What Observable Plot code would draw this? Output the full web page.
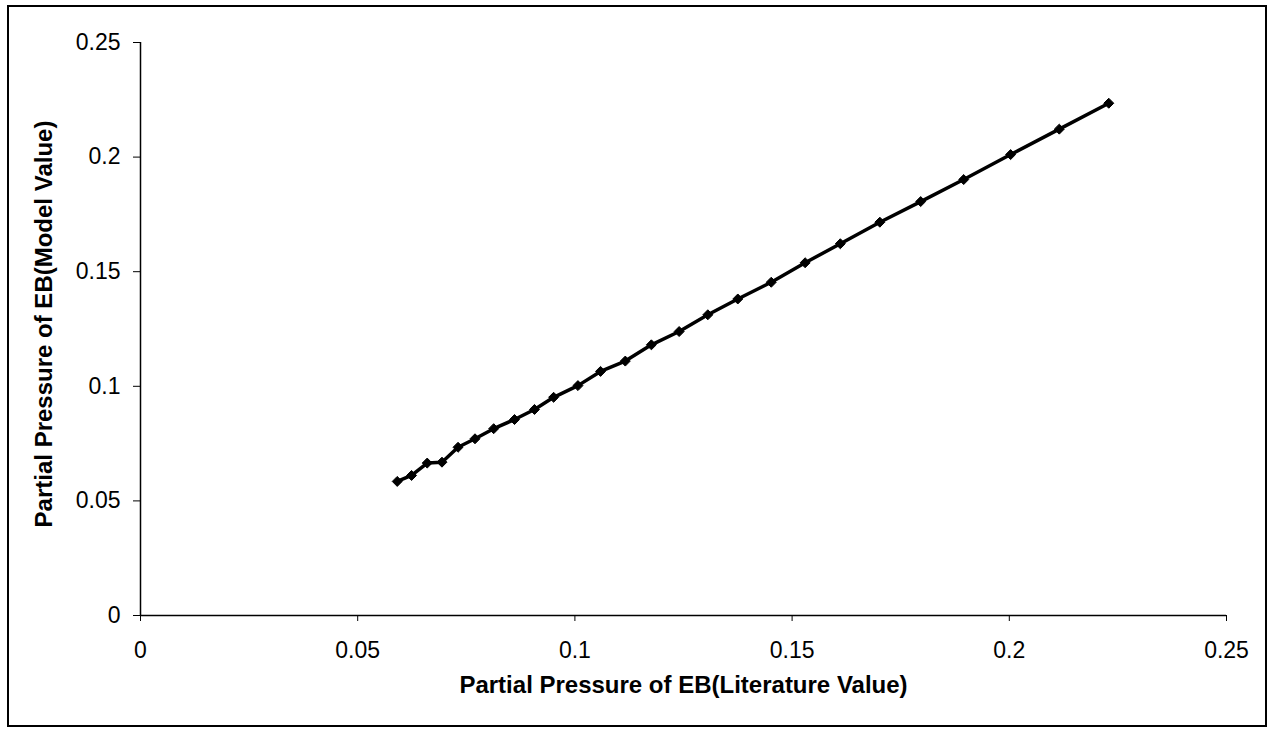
<!DOCTYPE html>
<html><head><meta charset="utf-8">
<script src="https://cdn.jsdelivr.net/npm/d3@7"></script>
<script src="https://cdn.jsdelivr.net/npm/@observablehq/plot@0.6"></script>
<style>
body{margin:0;background:#fff;}
#wrap{position:relative;width:1269px;height:730px;}
#border{position:absolute;left:7px;top:5px;width:1260px;height:722px;border:2px solid #000;box-sizing:border-box;pointer-events:none;}
#wrap svg{position:absolute;left:0;top:0;}
</style></head><body><div id="wrap"><div id="border"></div></div>
<script>
const literature = [0.0591,0.0624,0.0660,0.0694,0.0731,0.0770,0.0813,0.0861,0.0907,0.0951,0.1007,0.1059,0.1116,0.1176,0.1240,0.1306,0.1375,0.1452,0.1530,0.1611,0.1702,0.1796,0.1895,0.2003,0.2115,0.2229];
const model = [0.0585,0.0611,0.0665,0.0669,0.0734,0.0771,0.0815,0.0855,0.0899,0.0952,0.1003,0.1065,0.1110,0.1181,0.1239,0.1312,0.1381,0.1454,0.1539,0.1622,0.1716,0.1806,0.1902,0.2011,0.2122,0.2235];
const axisTicks = [0, 0.05, 0.1, 0.15, 0.2, 0.25];
const xTitle = "Partial Pressure of EB(Literature Value)";
const yTitle = "Partial Pressure of EB(Model Value)";

const data = literature.map((x, i) => ({x, y: model[i]}));

const chart = Plot.plot({
  width: 1269, height: 730,
  marginTop: 42, marginLeft: 140, marginRight: 43, marginBottom: 115,
  style: {fontFamily: "'Liberation Sans', Arial, sans-serif", background: "transparent", color: "#000"},
  x: {domain: [0, 0.25]},
  y: {domain: [0, 0.25]},
  marks: [
    Plot.ruleY([0], {stroke: "#000", strokeWidth: 1.5}),
    Plot.ruleX([0], {stroke: "#000", strokeWidth: 1.5}),
    Plot.axisX({ticks: axisTicks, tickFormat: d => String(d), tickSize: 6, tickPadding: 20, fontSize: 23, label: null, stroke: "#000"}),
    Plot.axisY({ticks: axisTicks, tickFormat: d => String(d), tickSize: 7, tickPadding: 13, fontSize: 23, label: null, stroke: "#000"}),
    Plot.line(data, {x: "x", y: "y", stroke: "#000", strokeWidth: 3.5}),
    Plot.dot(data, {x: "x", y: "y", symbol: "diamond2", r: 4.5, fill: "#000", stroke: "#000", strokeWidth: 1}),
    Plot.text([xTitle], {frameAnchor: "bottom", dy: 77, text: d => d, fontWeight: "bold", fontSize: 24, fill: "#000"}),
    Plot.text([yTitle], {frameAnchor: "left", textAnchor: "middle", dx: -96, dy: -5, rotate: -90, text: d => d, fontWeight: "bold", fontSize: 24, fill: "#000"})
  ]
});
document.getElementById("wrap").appendChild(chart);
</script>
</body></html>
